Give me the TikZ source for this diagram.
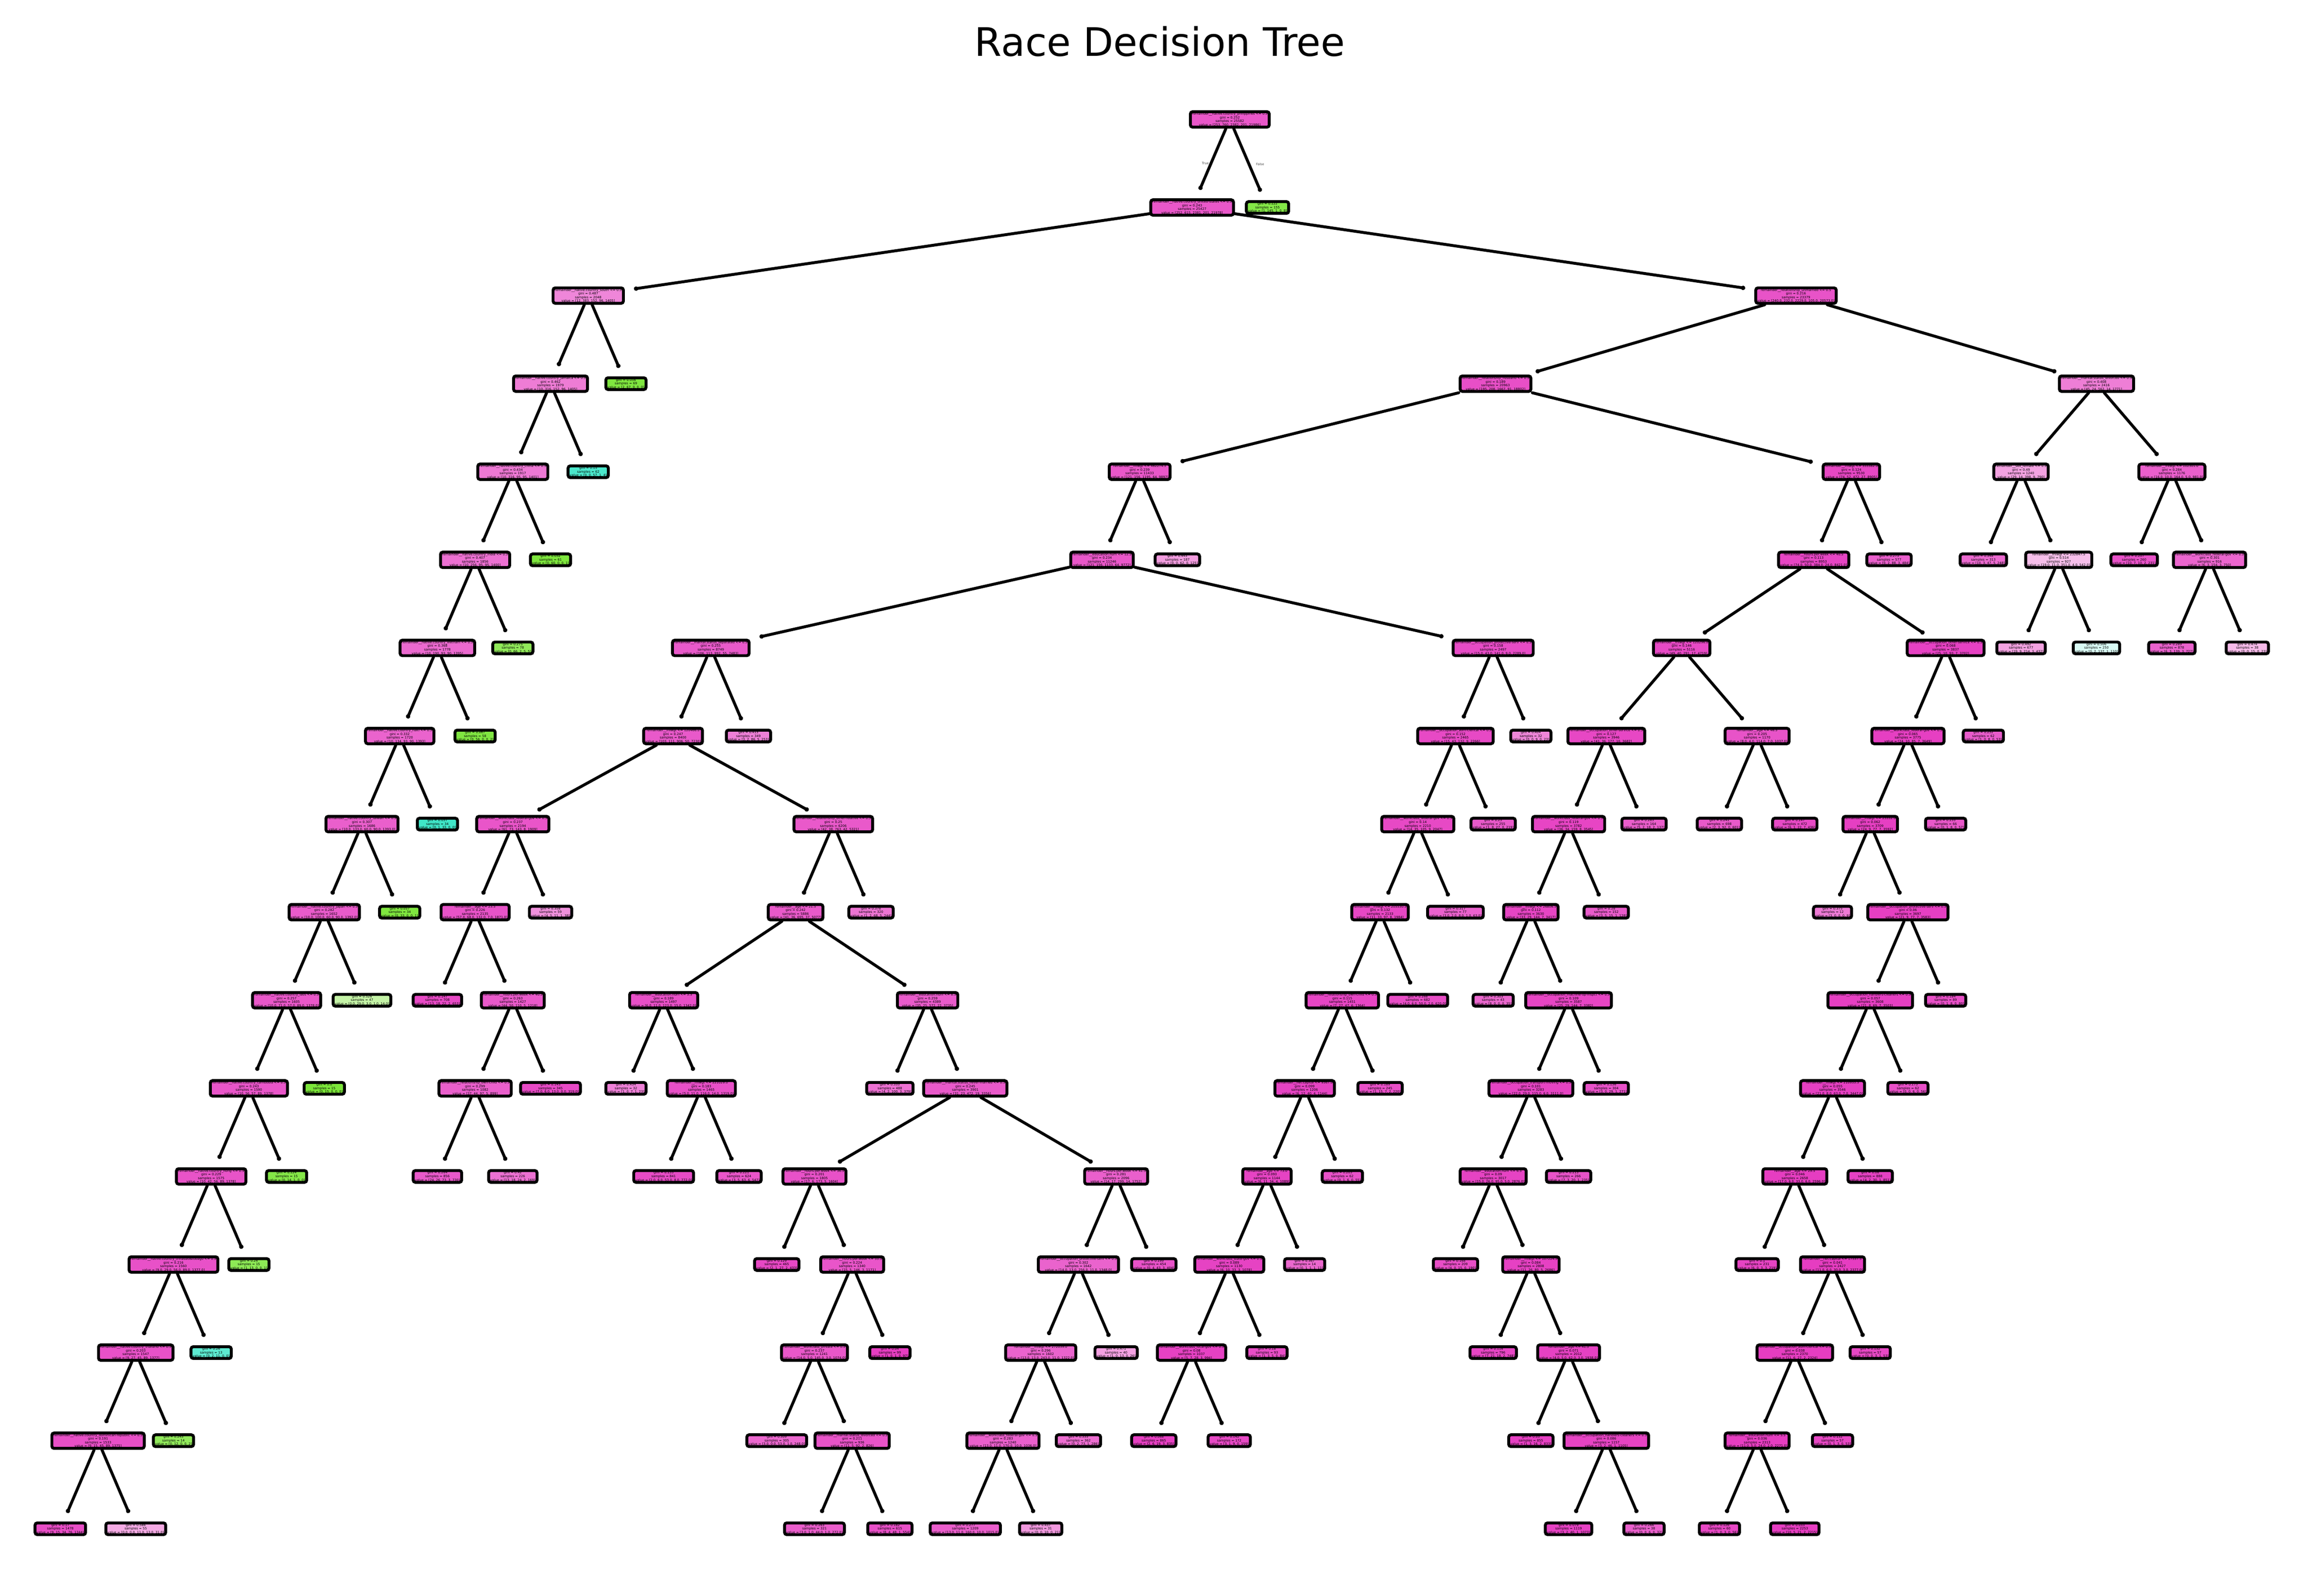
\documentclass[tikz,border=0pt]{standalone}
\usepackage{fontspec}
\newfontfamily\dejavu{DejaVu Sans}
\usetikzlibrary{arrows.meta}
\definecolor{mg}{RGB}{229,57,192}
\definecolor{gn}{RGB}{123,229,57}
\definecolor{cy}{RGB}{57,229,198}
\tikzset{
	tn/.style = {draw=black, line width=1.7pt, rounded corners=1.3pt, align=center,
		inner xsep=1pt, inner ysep=0.45pt, font=\dejavu\fontsize{1.9}{2.15}\selectfont},
	branch/.style = {line width=1.7pt, line cap=round, shorten >=0.19cm, -{Circle[length=2.5pt]}},
	lbl/.style = {font=\dejavu\fontsize{1.9}{2.15}\selectfont, text=black!70, inner sep=0.4pt, pos=0.5}
}
\newcommand{\splitnode}[5]{remainder\_\_#1 <= #2\\gini = #3\\samples = #4\\value = [#5]}
\newcommand{\leafnode}[3]{gini = #1\\samples = #2\\value = [#3]}

\begin{document}
\begin{tikzpicture}
	\useasboundingbox (0cm,0cm) rectangle (47.5cm,-32.85cm);
	\node[font=\dejavu\fontsize{23}{27}\selectfont] (title) at (23.87cm,-0.85cm) {Race Decision Tree};
	\begin{scope}[shift={(1.242cm,-2.458cm)}, x=0.776cm, y=-1.813cm]
	% depth 0-3
	\node[tn, fill=mg!85] (ph) at (31.0156,0) {\splitnode{native.country\_philippines}{0.5}{0.252}{25582}{253, 760, 2382, 201, 21986}};
	\node[tn, fill=mg!85] (us) at (30.0156,1) {\splitnode{native.country\_united-states}{0.5}{0.243}{25427}{252, 615, 2381, 201, 21978}};
	\node[tn, fill=gn!93] (lph) at (32.0156,1) {\leafnode{0.122}{155}{1, 145, 1, 0, 8}};
	\node[tn, fill=mg!61] (so) at (14,2) {\splitnode{native.country\_south}{0.5}{0.487}{2048}{12, 383, 152, 96, 1405}};
	\node[tn, fill=mg!87] (c) at (46.0313,2) {\splitnode{relationship\_unmarried}{0.5}{0.216}{23379}{240.0, 232.0, 2229.0, 105.0, 20573.0}};
	\node[tn, fill=mg!66] (ja) at (13,3) {\splitnode{native.country\_jamaica}{0.5}{0.462}{1979}{10, 316, 152, 96, 1405}};
	\node[tn, fill=gn!97] (lso) at (15,3) {\leafnode{0.056}{69}{2, 67, 0, 0, 0}};
	\node[tn, fill=mg!89] (q) at (38.0625,3) {\splitnode{relationship\_husband}{0.5}{0.189}{20963}{195, 208, 1667, 91, 18802}};
	\node[tn, fill=mg!65] (r) at (54,3) {\splitnode{marital.status\_divorced}{0.5}{0.408}{2416}{45, 24, 562, 14, 1771}};
	% depth 4
	\node[tn, fill=mg!68] (cn) at (12,4) {\splitnode{native.country\_china}{0.5}{0.434}{1917}{10, 316, 95, 95, 1401}};
	\node[tn, fill=cy!91] (lja) at (14,4) {\leafnode{0.15}{62}{0, 0, 57, 1, 4}};
	\node[tn, fill=mg!85] (s) at (28.625,4) {\splitnode{fnlwgt}{462274.5}{0.239}{11433}{121, 156, 1195, 64, 9897}};
	\node[tn, fill=mg!93] (t) at (47.5,4) {\splitnode{fnlwgt}{353382.0}{0.124}{9530}{74, 52, 472, 27, 8905}};
	\node[tn, fill=mg!47] (r1) at (52,4) {\splitnode{sex\_female}{0.5}{0.49}{1240}{29, 14, 398, 9, 790}};
	\node[tn, fill=mg!81] (r2) at (56,4) {\splitnode{fnlwgt}{102301.0}{0.284}{1176}{16.0, 10.0, 164.0, 5.0, 981.0}};
	% depth 5
	\node[tn, fill=mg!72] (ind) at (11,5) {\splitnode{native.country\_india}{0.5}{0.407}{1856}{10, 256, 95, 95, 1400}};
	\node[tn, fill=gn!98] (lcn) at (13,5) {\leafnode{0.032}{61}{0, 60, 0, 0, 1}};
	\node[tn, fill=mg!85] (u) at (27.625,5) {\splitnode{education.num}{12.5}{0.234}{11246}{121, 156, 1133, 64, 9772}};
	\node[tn, fill=mg!50] (ls) at (29.625,5) {\leafnode{0.443}{187}{0, 0, 62, 0, 125}};
	\node[tn, fill=mg!94] (t1) at (46.5,5) {\splitnode{hours.per.week}{40.5}{0.113}{8953}{74.0, 50.0, 384.0, 24.0, 8421.0}};
	\node[tn, fill=mg!81] (lt) at (48.5,5) {\leafnode{0.273}{577}{0, 2, 88, 3, 484}};
	\node[tn, fill=mg!76] (lr1) at (51,5) {\leafnode{0.348}{313}{10, 3, 47, 5, 248}};
	\node[tn, fill=mg!33] (r3) at (53,5) {\splitnode{fnlwgt}{232847.5}{0.514}{927}{19.0, 11.0, 351.0, 4.0, 542.0}};
	\node[tn, fill=mg!88] (lr2) at (55,5) {\leafnode{0.207}{260}{10, 7, 10, 2, 231}};
	\node[tn, fill=mg!78] (r4) at (57,5) {\splitnode{workclass\_federal-gov}{0.5}{0.301}{916}{6, 3, 154, 3, 750}};
	% depth 6
	\node[tn, fill=mg!76] (vn) at (10,6) {\splitnode{native.country\_vietnam}{0.5}{0.368}{1778}{10, 190, 93, 90, 1395}};
	\node[tn, fill=gn!84] (lin) at (12,6) {\leafnode{0.275}{78}{0, 66, 2, 5, 5}};
	\node[tn, fill=mg!84] (v) at (17.25,6) {\splitnode{marital.status\_separated}{0.5}{0.255}{8749}{106, 113, 992, 55, 7483}};
	\node[tn, fill=mg!91] (w) at (38,6) {\splitnode{occupation\_protective-serv}{0.5}{0.158}{2497}{15.0, 43.0, 141.0, 9.0, 2289.0}};
	\node[tn, fill=mg!92] (t2) at (43,6) {\splitnode{fnlwgt}{120296.0}{0.146}{5116}{49, 40, 291, 17, 4719}};
	\node[tn, fill=mg!96] (t3) at (50,6) {\splitnode{occupation\_other-service}{0.5}{0.068}{3837}{25, 10, 93, 7, 3702}};
	\node[tn, fill=mg!47] (lr3a) at (52,6) {\leafnode{0.492}{677}{19, 9, 214, 3, 432}};
	\node[tn, fill=cy!19] (lr3b) at (54,6) {\leafnode{0.506}{250}{0, 2, 137, 1, 110}};
	\node[tn, fill=mg!80] (lr4a) at (56,6) {\leafnode{0.289}{878}{6, 3, 139, 3, 727}};
	\node[tn, fill=mg!35] (lr4b) at (58,6) {\leafnode{0.474}{38}{0, 0, 15, 0, 23}};
	% depth 7
	\node[tn, fill=mg!79] (ht) at (9,7) {\splitnode{native.country\_haiti}{0.5}{0.332}{1720}{10, 134, 93, 90, 1393}};
	\node[tn, fill=gn!96] (lvn) at (11,7) {\leafnode{0.067}{58}{0, 56, 0, 0, 2}};
	\node[tn, fill=mg!84] (x) at (16.25,7) {\splitnode{fnlwgt}{120466.0}{0.247}{8400}{103, 111, 906, 50, 7230}};
	\node[tn, fill=mg!64] (lv) at (18.25,7) {\leafnode{0.413}{349}{3, 2, 86, 5, 253}};
	\node[tn, fill=mg!92] (w1) at (37,7) {\splitnode{occupation\_adm-clerical}{0.5}{0.152}{2465}{15, 43, 132, 9, 2266}};
	\node[tn, fill=mg!61] (lw) at (39,7) {\leafnode{0.404}{32}{0, 0, 9, 0, 23}};
	\node[tn, fill=mg!93] (t4) at (41,7) {\splitnode{occupation\_other-service}{0.5}{0.127}{3946}{41, 36, 177, 10, 3682}};
	\node[tn, fill=mg!87] (t5) at (45,7) {\splitnode{age}{46.5}{0.205}{1170}{8.0, 4.0, 114.0, 7.0, 1037.0}};
	\node[tn, fill=mg!97] (t14) at (49,7) {\splitnode{workclass\_federal-gov}{0.5}{0.065}{3775}{24, 10, 85, 7, 3649}};
	\node[tn, fill=mg!83] (lt3) at (51,7) {\leafnode{0.252}{62}{1, 0, 8, 0, 53}};
	% depth 8
	\node[tn, fill=mg!81] (tw) at (8,8) {\splitnode{native.country\_taiwan}{0.5}{0.307}{1686}{10.0, 133.0, 60.0, 90.0, 1393.0}};
	\node[tn, fill=cy!97] (lht) at (10,8) {\leafnode{0.057}{34}{0, 1, 33, 0, 0}};
	\node[tn, fill=mg!86] (y) at (12,8) {\splitnode{workclass\_federal-gov}{0.5}{0.237}{2194}{61, 73, 143, 8, 1909}};
	\node[tn, fill=mg!84] (z) at (20.5,8) {\splitnode{relationship\_other-relative}{0.5}{0.25}{6206}{42, 38, 763, 42, 5321}};
	\node[tn, fill=mg!92] (w2) at (36,8) {\splitnode{workclass\_federal-gov}{0.5}{0.14}{2210}{14, 35, 105, 9, 2047}};
	\node[tn, fill=mg!84] (lw1) at (38,8) {\leafnode{0.25}{255}{1, 8, 27, 0, 219}};
	\node[tn, fill=mg!94] (t6) at (40,8) {\splitnode{workclass\_federal-gov}{0.5}{0.119}{3782}{36, 34, 159, 8, 3545}};
	\node[tn, fill=mg!82] (lt4) at (42,8) {\leafnode{0.285}{164}{5, 2, 18, 2, 137}};
	\node[tn, fill=mg!84] (lt5a) at (44,8) {\leafnode{0.241}{698}{2, 3, 92, 0, 601}};
	\node[tn, fill=mg!92] (lt5b) at (46,8) {\leafnode{0.147}{472}{6, 1, 22, 7, 436}};
	\node[tn, fill=mg!97] (t15) at (48,8) {\splitnode{fnlwgt}{23332.0}{0.062}{3709}{24, 9, 77, 7, 3592}};
	\node[tn, fill=mg!85] (lt14) at (50,8) {\leafnode{0.255}{66}{0, 1, 8, 0, 57}};
	% depth 9
	\node[tn, fill=mg!83] (jp) at (7,9) {\splitnode{native.country\_japan}{0.5}{0.282}{1652}{10.0, 100.0, 60.0, 90.0, 1392.0}};
	\node[tn, fill=gn!97] (ltw) at (9,9) {\leafnode{0.057}{34}{0, 33, 0, 0, 1}};
	\node[tn, fill=mg!87] (y1) at (11,9) {\splitnode{age}{23.5}{0.226}{2135}{57.0, 68.0, 132.0, 7.0, 1871.0}};
	\node[tn, fill=mg!56] (ly) at (13,9) {\leafnode{0.358}{59}{4, 5, 11, 1, 38}};
	\node[tn, fill=mg!84] (z1) at (19.5,9) {\splitnode{age}{21.5}{0.242}{5886}{41, 36, 695, 37, 5077}};
	\node[tn, fill=mg!70] (lz) at (21.5,9) {\leafnode{0.378}{320}{1, 2, 68, 5, 244}};
	\node[tn, fill=mg!93] (w3) at (35,9) {\splitnode{fnlwgt}{205530.5}{0.132}{2133}{11, 33, 97, 8, 1984}};
	\node[tn, fill=mg!80] (lw2) at (37,9) {\leafnode{0.317}{77}{3.0, 2.0, 8.0, 1.0, 63.0}};
	\node[tn, fill=mg!94] (t7) at (39,9) {\splitnode{fnlwgt}{26806.5}{0.112}{3630}{33, 29, 144, 7, 3417}};
	\node[tn, fill=mg!83] (lt6) at (41,9) {\leafnode{0.28}{152}{3, 5, 15, 1, 128}};
	\node[tn, fill=mg!67] (lt15) at (47,9) {\leafnode{0.375}{12}{3, 0, 0, 0, 9}};
	\node[tn, fill=mg!97] (t16) at (49,9) {\splitnode{occupation\_protective-serv}{0.5}{0.06}{3697}{21, 9, 77, 7, 3583}};
	% depth 10
	\node[tn, fill=mg!85] (la) at (6,10) {\splitnode{native.country\_laos}{0.5}{0.257}{1605}{10.0, 71.0, 57.0, 89.0, 1378.0}};
	\node[tn, fill=gn!45] (ljp) at (8,10) {\leafnode{0.526}{47}{0.0, 29.0, 3.0, 1.0, 14.0}};
	\node[tn, fill=mg!92] (ly1) at (10,10) {\leafnode{0.147}{708}{13, 18, 22, 2, 653}};
	\node[tn, fill=mg!84] (y2) at (12,10) {\splitnode{hours.per.week}{40.5}{0.263}{1427}{44, 50, 110, 5, 1218}};
	\node[tn, fill=mg!89] (z2) at (16,10) {\splitnode{education.num}{5.5}{0.189}{1497}{6.0, 11.0, 123.0, 15.0, 1342.0}};
	\node[tn, fill=mg!83] (z3) at (23,10) {\splitnode{education.num}{8.5}{0.259}{4389}{35, 25, 572, 22, 3735}};
	\node[tn, fill=mg!94] (w4) at (34,10) {\splitnode{relationship\_own-child}{0.5}{0.115}{1451}{7, 27, 47, 6, 1364}};
	\node[tn, fill=mg!90] (lw3) at (36,10) {\leafnode{0.168}{682}{4.0, 6.0, 50.0, 2.0, 620.0}};
	\node[tn, fill=mg!77] (lt7) at (38,10) {\leafnode{0.303}{43}{8, 0, 0, 0, 35}};
	\node[tn, fill=mg!94] (t8) at (40,10) {\splitnode{occupation\_machine-op-inspct}{0.5}{0.109}{3587}{25, 29, 144, 7, 3382}};
	\node[tn, fill=mg!97] (t17) at (48,10) {\splitnode{occupation\_handlers-cleaners}{0.5}{0.057}{3608}{21, 8, 69, 7, 3503}};
	\node[tn, fill=mg!89] (lt16) at (50,10) {\leafnode{0.184}{89}{0, 1, 8, 0, 80}};
	% depth 11
	\node[tn, fill=mg!86] (kh) at (5,11) {\splitnode{native.country\_cambodia}{0.5}{0.243}{1590}{10, 56, 57, 89, 1378}};
	\node[tn, fill=gn] (lla) at (7,11) {\leafnode{0.0}{15}{0, 15, 0, 0, 0}};
	\node[tn, fill=mg!81] (y3) at (11,11) {\splitnode{relationship\_own-child}{0.5}{0.299}{1082}{37, 44, 97, 5, 899}};
	\node[tn, fill=mg!92] (ly2) at (13,11) {\leafnode{0.143}{345}{7.0, 6.0, 13.0, 0.0, 319.0}};
	\node[tn, fill=mg!64] (lz2) at (15,11) {\leafnode{0.434}{32}{1, 0, 7, 1, 23}};
	\node[tn, fill=mg!89] (z4) at (17,11) {\splitnode{fnlwgt}{221029.0}{0.183}{1465}{5.0, 11.0, 116.0, 14.0, 1319.0}};
	\node[tn, fill=mg!72] (lz3) at (22,11) {\leafnode{0.355}{488}{4, 2, 100, 3, 379}};
	\node[tn, fill=mg!84] (z5) at (24,11) {\splitnode{marital.status\_never-married}{0.5}{0.245}{3901}{31, 23, 472, 19, 3356}};
	\node[tn, fill=mg!95] (w5) at (33,11) {\splitnode{net.capital}{9567.0}{0.099}{1206}{6, 12, 40, 4, 1144}};
	\node[tn, fill=mg!89] (lw4) at (35,11) {\leafnode{0.189}{245}{1, 15, 7, 2, 220}};
	\node[tn, fill=mg!95] (t9) at (39,11) {\splitnode{occupation\_transport-moving}{0.5}{0.101}{3283}{22.0, 29.0, 115.0, 6.0, 3111.0}};
	\node[tn, fill=mg!88] (lt8) at (41,11) {\leafnode{0.156}{304}{3, 0, 29, 1, 271}};
	\node[tn, fill=mg!97] (t18) at (47,11) {\splitnode{fnlwgt}{210935.5}{0.055}{3546}{21.0, 8.0, 63.0, 7.0, 3447.0}};
	\node[tn, fill=mg!89] (lt17) at (49,11) {\leafnode{0.175}{62}{0, 0, 6, 0, 56}};
	% depth 12
	\node[tn, fill=mg!87] (hk) at (4,12) {\splitnode{native.country\_hong}{0.5}{0.229}{1575}{10, 42, 56, 89, 1378}};
	\node[tn, fill=gn!93] (lkh) at (6,12) {\leafnode{0.124}{15}{0, 14, 1, 0, 0}};
	\node[tn, fill=mg!84] (ly3a) at (10,12) {\leafnode{0.264}{856}{24, 26, 73, 3, 730}};
	\node[tn, fill=mg!72] (ly3b) at (12,12) {\leafnode{0.42}{226}{13, 18, 24, 2, 169}};
	\node[tn, fill=mg!91] (lz4a) at (16,12) {\leafnode{0.153}{841}{2.0, 6.0, 53.0, 8.0, 772.0}};
	\node[tn, fill=mg!86] (lz4b) at (18,12) {\leafnode{0.221}{624}{3, 5, 63, 6, 547}};
	\node[tn, fill=mg!88] (z6) at (20,12) {\splitnode{hours.per.week}{36.5}{0.201}{1805}{17, 6, 173, 5, 1604}};
	\node[tn, fill=mg!81] (z7) at (28,12) {\splitnode{hours.per.week}{41.5}{0.281}{2096}{14, 17, 299, 14, 1752}};
	\node[tn, fill=mg!95] (w6) at (32,12) {\splitnode{age}{73.0}{0.093}{1144}{6, 11, 34, 4, 1089}};
	\node[tn, fill=mg!88] (lw5) at (34,12) {\leafnode{0.203}{62}{0, 1, 6, 0, 55}};
	\node[tn, fill=mg!95] (t10) at (38,12) {\splitnode{education.num}{6.5}{0.09}{3017}{15.0, 26.0, 95.0, 5.0, 2876.0}};
	\node[tn, fill=mg!87] (lt9) at (40,12) {\leafnode{0.213}{266}{7, 3, 20, 1, 235}};
	\node[tn, fill=mg!98] (t19) at (46,12) {\splitnode{age}{29.5}{0.046}{2658}{17.0, 6.0, 33.0, 6.0, 2596.0}};
	\node[tn, fill=mg!96] (lt18) at (48,12) {\leafnode{0.08}{888}{4, 2, 30, 1, 851}};
	% depth 13
	\node[tn, fill=mg!88] (tt) at (3,13) {\splitnode{native.country\_trinadad\&tobago}{0.5}{0.216}{1560}{9.0, 29.0, 56.0, 89.0, 1377.0}};
	\node[tn, fill=gn!86] (lhk) at (5,13) {\leafnode{0.24}{15}{1, 13, 0, 0, 1}};
	\node[tn, fill=mg!93] (lz6) at (19,13) {\leafnode{0.129}{465}{2, 1, 27, 2, 433}};
	\node[tn, fill=mg!86] (z8) at (21,13) {\splitnode{hours.per.week}{55.5}{0.224}{1340}{15, 5, 146, 3, 1171}};
	\node[tn, fill=mg!79] (z11) at (27,13) {\splitnode{occupation\_protective-serv}{0.5}{0.302}{1642}{14.0, 13.0, 256.0, 11.0, 1348.0}};
	\node[tn, fill=mg!88] (lz7) at (29,13) {\leafnode{0.199}{454}{0, 4, 43, 3, 404}};
	\node[tn, fill=mg!95] (w7) at (31,13) {\splitnode{workclass\_state-gov}{0.5}{0.089}{1130}{6, 10, 33, 3, 1078}};
	\node[tn, fill=mg!77] (lw6) at (33,13) {\leafnode{0.367}{14}{0, 1, 1, 1, 11}};
	\node[tn, fill=mg!90] (lt10) at (37,13) {\leafnode{0.168}{209}{4, 0, 15, 0, 190}};
	\node[tn, fill=mg!96] (t11) at (39,13) {\splitnode{fnlwgt}{107224.5}{0.084}{2808}{11, 26, 80, 5, 2686}};
	\node[tn, fill=mg!95] (lt19) at (45,13) {\leafnode{0.1}{231}{6, 0, 3, 3, 219}};
	\node[tn, fill=mg!98] (t20) at (47,13) {\splitnode{net.capital}{17537.5}{0.041}{2427}{11.0, 6.0, 30.0, 3.0, 2377.0}};
	% depth 14
	\node[tn, fill=mg!88] (th) at (2,14) {\splitnode{native.country\_thailand}{0.5}{0.203}{1547}{9, 27, 45, 89, 1377}};
	\node[tn, fill=cy!82] (ltt) at (4,14) {\leafnode{0.26}{13}{0, 2, 11, 0, 0}};
	\node[tn, fill=mg!85] (z9) at (20,14) {\splitnode{workclass\_private}{0.5}{0.237}{1241}{14.0, 5.0, 145.0, 3.0, 1074.0}};
	\node[tn, fill=mg!98] (lz8) at (22,14) {\leafnode{0.04}{99}{1, 0, 1, 0, 97}};
	\node[tn, fill=mg!79] (z12) at (26,14) {\splitnode{fnlwgt}{272059.0}{0.296}{1602}{13.0, 13.0, 243.0, 11.0, 1322.0}};
	\node[tn, fill=mg!48] (lz11) at (28,14) {\leafnode{0.471}{40}{1, 0, 13, 0, 26}};
	\node[tn, fill=mg!96] (w8) at (30,14) {\splitnode{workclass\_local-gov}{0.5}{0.08}{1037}{5, 7, 28, 3, 994}};
	\node[tn, fill=mg!90] (lw7) at (32,14) {\leafnode{0.18}{93}{1, 3, 5, 0, 84}};
	\node[tn, fill=mg!94] (lt11) at (38,14) {\leafnode{0.116}{796}{7, 21, 18, 2, 748}};
	\node[tn, fill=mg!96] (t12) at (40,14) {\splitnode{age}{41.5}{0.071}{2012}{4.0, 5.0, 62.0, 3.0, 1938.0}};
	\node[tn, fill=mg!98] (t21) at (46,14) {\splitnode{occupation\_adm-clerical}{0.5}{0.038}{2370}{11, 6, 27, 2, 2324}};
	\node[tn, fill=mg!93] (lt20) at (48,14) {\leafnode{0.132}{57}{0, 0, 3, 1, 53}};
	% depth 15
	\node[tn, fill=mg!89] (dr) at (1,15) {\splitnode{native.country\_dominican-republic}{0.5}{0.191}{1533}{9, 15, 45, 89, 1375}};
	\node[tn, fill=gn!83] (lth) at (3,15) {\leafnode{0.245}{14}{0, 12, 0, 0, 2}};
	\node[tn, fill=mg!77] (lz9) at (19,15) {\leafnode{0.309}{305}{3.0, 0.0, 53.0, 1.0, 248.0}};
	\node[tn, fill=mg!87] (z10) at (21,15) {\splitnode{marital.status\_divorced}{0.5}{0.211}{936}{11, 5, 92, 2, 826}};
	\node[tn, fill=mg!81] (z13) at (25,15) {\splitnode{workclass\_federal-gov}{0.5}{0.283}{1240}{13.0, 11.0, 170.0, 10.0, 1036.0}};
	\node[tn, fill=mg!74] (lz12) at (27,15) {\leafnode{0.335}{362}{0, 2, 73, 1, 286}};
	\node[tn, fill=mg!97] (lw8a) at (29,15) {\leafnode{0.068}{865}{2, 6, 19, 3, 835}};
	\node[tn, fill=mg!92] (lw8b) at (31,15) {\leafnode{0.142}{172}{3, 1, 9, 0, 159}};
	\node[tn, fill=mg!97] (lt12) at (39,15) {\leafnode{0.05}{855}{1, 3, 16, 2, 833}};
	\node[tn, fill=mg!95] (t13) at (41,15) {\splitnode{occupation\_handlers-cleaners}{0.5}{0.086}{1157}{3, 2, 46, 1, 1105}};
	\node[tn, fill=mg!98] (t22) at (45,15) {\splitnode{education.num}{5.5}{0.036}{2313}{11.0, 5.0, 24.0, 2.0, 2271.0}};
	\node[tn, fill=mg!93] (lt21) at (47,15) {\leafnode{0.132}{57}{0, 1, 3, 0, 53}};
	% depth 16
	\node[tn, fill=mg!90] (ldra) at (0,16) {\leafnode{0.17}{1478}{9, 15, 34, 76, 1344}};
	\node[tn, fill=mg!43] (ldrb) at (2,16) {\leafnode{0.586}{55}{0.0, 0.0, 11.0, 13.0, 31.0}};
	\node[tn, fill=mg!82] (lz10a) at (20,16) {\leafnode{0.263}{321}{3.0, 1.0, 44.0, 1.0, 272.0}};
	\node[tn, fill=mg!89] (lz10b) at (22,16) {\leafnode{0.182}{615}{8, 4, 48, 1, 554}};
	\node[tn, fill=mg!82] (lz13a) at (24,16) {\leafnode{0.277}{1209}{13.0, 11.0, 160.0, 10.0, 1015.0}};
	\node[tn, fill=mg!52] (lz13b) at (26,16) {\leafnode{0.437}{31}{0, 0, 10, 0, 21}};
	\node[tn, fill=mg!96] (lt13a) at (40,16) {\leafnode{0.079}{1119}{3, 2, 40, 1, 1073}};
	\node[tn, fill=mg!81] (lt13b) at (42,16) {\leafnode{0.266}{38}{0, 0, 6, 0, 32}};
	\node[tn, fill=mg!93] (lt22a) at (44,16) {\leafnode{0.126}{60}{1, 0, 3, 0, 56}};
	\node[tn, fill=mg!98] (lt22b) at (46,16) {\leafnode{0.033}{2253}{10, 5, 21, 2, 2215}};
	\end{scope}

	\draw[branch] (ph) -- node[lbl, anchor=east] {True} (us);
	\draw[branch] (ph) -- node[lbl, anchor=west, xshift=0.1cm] {False} (lph);
	\foreach \p/\c in {us/so, us/c,
		so/ja, so/lso, ja/cn, ja/lja, cn/ind, cn/lcn, ind/vn, ind/lin, vn/ht, vn/lvn, ht/tw, ht/lht,
		tw/jp, tw/ltw, jp/la, jp/ljp, la/kh, la/lla, kh/hk, kh/lkh, hk/tt, hk/lhk, tt/th, tt/ltt,
		th/dr, th/lth, dr/ldra, dr/ldrb,
		c/q, c/r, q/s, q/t, s/u, s/ls, u/v, u/w, v/x, v/lv, x/y, x/z,
		y/y1, y/ly, y1/ly1, y1/y2, y2/y3, y2/ly2, y3/ly3a, y3/ly3b,
		z/z1, z/lz, z1/z2, z1/z3, z2/lz2, z2/z4, z4/lz4a, z4/lz4b, z3/lz3, z3/z5,
		z5/z6, z5/z7, z6/lz6, z6/z8, z8/z9, z8/lz8, z9/lz9, z9/z10, z10/lz10a, z10/lz10b,
		z7/z11, z7/lz7, z11/z12, z11/lz11, z12/z13, z12/lz12, z13/lz13a, z13/lz13b,
		w/w1, w/lw, w1/w2, w1/lw1, w2/w3, w2/lw2, w3/w4, w3/lw3, w4/w5, w4/lw4,
		w5/w6, w5/lw5, w6/w7, w6/lw6, w7/w8, w7/lw7, w8/lw8a, w8/lw8b,
		t/t1, t/lt, t1/t2, t1/t3, t2/t4, t2/t5, t4/t6, t4/lt4, t5/lt5a, t5/lt5b,
		t6/t7, t6/lt6, t7/lt7, t7/t8, t8/t9, t8/lt8, t9/t10, t9/lt9, t10/lt10, t10/t11,
		t11/lt11, t11/t12, t12/lt12, t12/t13, t13/lt13a, t13/lt13b,
		t3/t14, t3/lt3, t14/t15, t14/lt14, t15/lt15, t15/t16, t16/t17, t16/lt16,
		t17/t18, t17/lt17, t18/t19, t18/lt18, t19/lt19, t19/t20, t20/t21, t20/lt20,
		t21/t22, t21/lt21, t22/lt22a, t22/lt22b,
		r/r1, r/r2, r1/lr1, r1/r3, r3/lr3a, r3/lr3b, r2/lr2, r2/r4, r4/lr4a, r4/lr4b}
		\draw[branch] (\p) -- (\c);
\end{tikzpicture}
\end{document}
